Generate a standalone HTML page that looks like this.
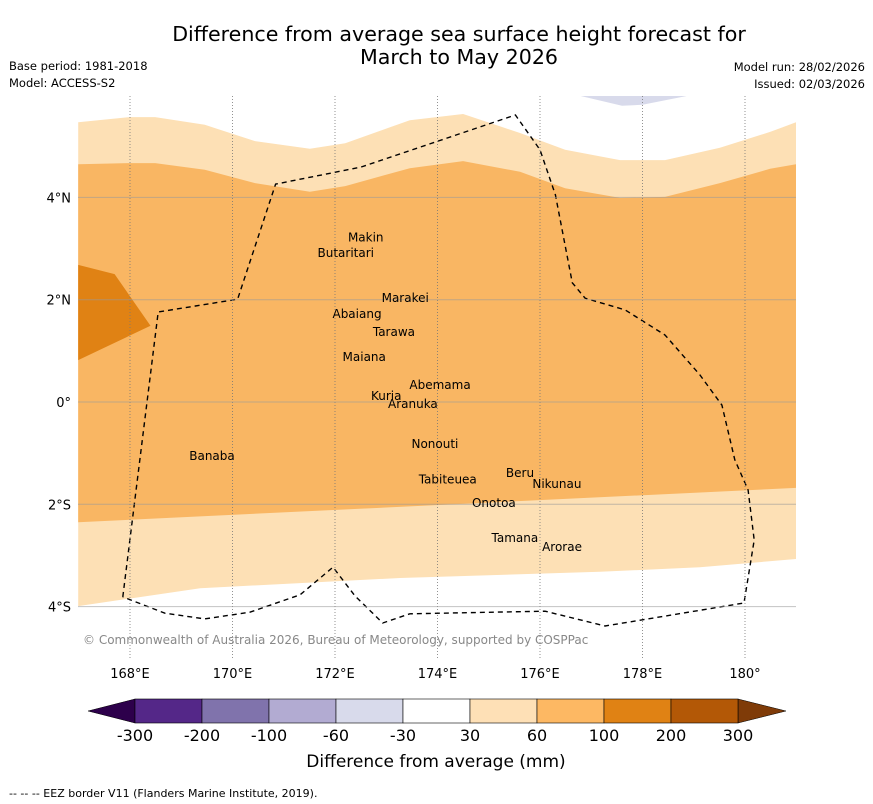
<!DOCTYPE html>
<html><head><meta charset="utf-8">
<style>
body{margin:0;background:#fff;}
svg{display:block;font-family:"DejaVu Sans","Liberation Sans",sans-serif;}
</style></head>
<body>
<svg id="chart" width="873" height="804" viewBox="0 0 873 804">
<text x="459" y="41" font-size="20.6" text-anchor="middle">Difference from average sea surface height forecast for</text>
<text x="459" y="64" font-size="20.6" text-anchor="middle">March to May 2026</text>
<text x="9" y="70" font-size="11.5">Base period: 1981-2018</text>
<text x="9" y="87" font-size="11.5">Model: ACCESS-S2</text>
<text x="865" y="71" font-size="11.5" text-anchor="end">Model run: 28/02/2026</text>
<text x="865" y="88" font-size="11.5" text-anchor="end">Issued: 02/03/2026</text>
<defs><clipPath id="mapclip"><rect x="78" y="96" width="718" height="564"/></clipPath></defs>
<g id="map" clip-path="url(#mapclip)"></g>
<g id="axes"></g>
<g id="labels"></g>
<text x="83" y="644" font-size="12" fill="#888">© Commonwealth of Australia 2026, Bureau of Meteorology, supported by COSPPac</text>
<g id="cbar"></g>
<text x="436" y="767" font-size="17" text-anchor="middle">Difference from average (mm)</text>
<text x="9" y="797" font-size="11">--  --  -- EEZ border V11 (Flanders Marine Institute, 2019).</text>
</svg>
<script>
const lonTicks=[168,170,172,174,176,178,180];
const lonLabels=["168°E","170°E","172°E","174°E","176°E","178°E","180°"];
const latTicks=[4,2,0,-2,-4];
const latLabels=["4°N","2°N","0°","2°S","4°S"];
const cbarLevels=["-300","-200","-100","-60","-30","30","60","100","200","300"];
const cbarColors=["#542788","#8073ac","#b2abd2","#d8daeb","#ffffff","#fee0b6","#fdb863","#e08214","#b35806"];
const islandNames=["Makin","Butaritari","Marakei","Abaiang","Tarawa","Maiana","Abemama","Kuria","Aranuka","Nonouti","Tabiteuea","Beru","Nikunau","Onotoa","Tamana","Arorae","Banaba"];
const islandLon=[172.6,172.21,173.37,172.43,173.15,172.57,174.05,173.0,173.52,173.95,174.2,175.61,176.33,175.1,175.51,176.43,169.6];
const islandLat=[3.22,2.91,2.03,1.72,1.37,0.88,0.33,0.12,-0.04,-0.82,-1.52,-1.39,-1.6,-1.97,-2.66,-2.83,-1.06];
const lightTopLon=[166.99,168,168.49,169.46,170.44,171.51,172.2,173.46,174.5,175.61,176.49,177.56,178.44,179.51,180.49,181];
const lightTopLat=[5.47,5.57,5.57,5.42,5.10,4.95,5.06,5.51,5.63,5.26,4.93,4.73,4.73,4.97,5.28,5.47];
const orangeTopLat=[4.65,4.67,4.67,4.54,4.28,4.11,4.22,4.57,4.71,4.50,4.18,3.99,4.01,4.28,4.56,4.65];
const orangeBotLon=[166.99,181];
const orangeBotLat=[-2.35,-1.68];
const lightBotLon=[166.99,169.37,173.27,177.17,179.12,181];
const lightBotLat=[-3.99,-3.64,-3.44,-3.32,-3.23,-3.07];
const darkLon=[166.99,167.7,168.4,167.6,166.99];
const darkLat=[2.68,2.50,1.49,1.11,0.82];
const purpleLon=[176.72,177.6,178.0,178.95];
const purpleLat=[6.0,5.79,5.81,6.0];
const eezLon=[167.86,168.55,170.1,170.84,172.5,175.52,176.0,176.3,176.63,176.88,177.66,178.44,179.12,179.55,179.8,180.06,180.18,179.98,177.27,176.1,173.46,172.93,172.39,171.96,171.32,170.34,169.46,168.68,167.86];
const eezLat=[-3.81,1.76,2.01,4.26,4.59,5.61,4.93,4.05,2.33,2.03,1.80,1.31,0.53,-0.06,-1.13,-1.72,-2.70,-3.93,-4.38,-4.09,-4.14,-4.32,-3.79,-3.23,-3.77,-4.11,-4.24,-4.13,-3.81];
const NS="http://www.w3.org/2000/svg";
function X(lon){return 130+(lon-168)*51.25;}
function Y(lat){return 402-lat*51.15;}
function mk(tag,attrs,parent){const e=document.createElementNS(NS,tag);for(const k in attrs)e.setAttribute(k,attrs[k]);parent.appendChild(e);return e;}
function pts(lons,lats){return lons.map((l,i)=>X(l).toFixed(1)+","+Y(lats[i]).toFixed(1));}
const map=document.getElementById('map');
let p=mk('polygon',{points:pts(lightTopLon,lightTopLat).concat(pts(lightBotLon,lightBotLat).reverse()).join(' '),fill:'#fde0b5'},map);


p=mk('polygon',{points:pts(lightTopLon,orangeTopLat).concat(pts(orangeBotLon,orangeBotLat).reverse()).join(' '),fill:'#f9b663'},map);


p=mk('polygon',{points:pts(darkLon,darkLat).join(' '),fill:'#e08214'},map);


p=mk('polygon',{points:pts(purpleLon,purpleLat).join(' '),fill:'#d8daeb'},map);


const ax=document.getElementById('axes');
lonTicks.forEach((l,i)=>{
  let g=mk('line',{x1:X(l),x2:X(l),y1:96,y2:660,stroke:'#777','stroke-width':0.8,'stroke-dasharray':'1,2'},ax);
  
  
  let t=mk('text',{x:X(l),y:678,'font-size':13,'text-anchor':'middle'},ax);
  t.textContent=lonLabels[i];
  
  
});
latTicks.forEach((l,i)=>{
  let g=mk('line',{x1:78,x2:796,y1:Y(l),y2:Y(l),stroke:'#999','stroke-opacity':0.6,'stroke-width':1},ax);
  
  
  let t=mk('text',{x:71,y:Y(l)+5,'font-size':13,'text-anchor':'end'},ax);
  t.textContent=latLabels[i];
  
  
});
let eez=mk('polyline',{points:pts(eezLon,eezLat).join(' '),fill:'none',stroke:'#000','stroke-width':1.4,'stroke-dasharray':'5,4'},map);


const lab=document.getElementById('labels');
islandNames.forEach((n,i)=>{
  let t=mk('text',{x:X(islandLon[i]),y:Y(islandLat[i])+4,'font-size':12,'text-anchor':'middle'},lab);
  t.textContent=n;
  
  
});
const cb=document.getElementById('cbar');
const cx0=135,cx1=738,cy=699,ch=24,n=cbarColors.length,w=(cx1-cx0)/n;
let tri=mk('polygon',{points:`88,${cy+ch/2} ${cx0},${cy} ${cx0},${cy+ch}`,fill:'#2d004b',stroke:'#000','stroke-width':0.5},cb);


tri=mk('polygon',{points:`786,${cy+ch/2} ${cx1},${cy} ${cx1},${cy+ch}`,fill:'#7f3b08',stroke:'#000','stroke-width':0.5},cb);


cbarColors.forEach((c,i)=>{
  let r=mk('rect',{x:cx0+i*w,y:cy,width:w,height:ch,fill:c,stroke:'#000','stroke-width':0.6},cb);
  
  
});
cbarLevels.forEach((l,i)=>{
  let t=mk('text',{x:cx0+i*w,y:741,'font-size':16,'text-anchor':'middle'},cb);
  t.textContent=l;
  
  
});
</script>
</body></html>
